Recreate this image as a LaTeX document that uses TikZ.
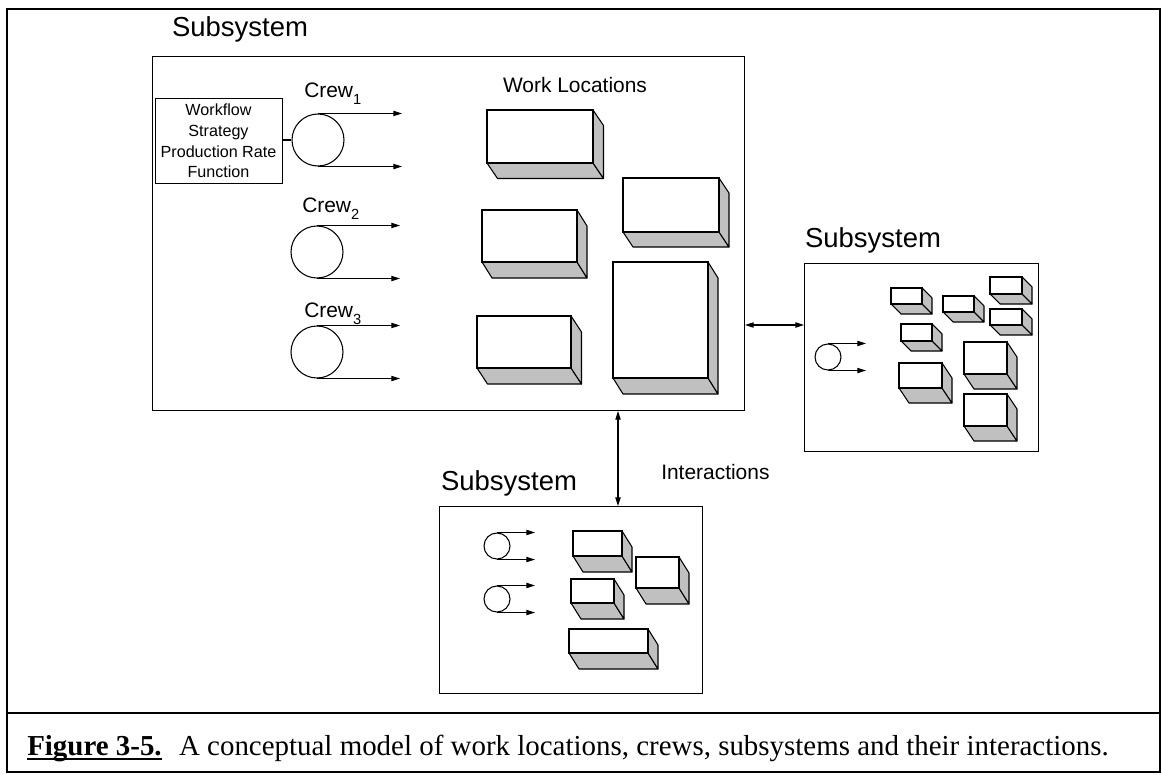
\documentclass[tikz,border=0pt]{standalone}
\usepackage{fontspec}
\setmainfont{Liberation Serif}
\newfontfamily\arialfont{Liberation Sans}
\usetikzlibrary{arrows.meta}
\definecolor{sidegray}{HTML}{C0C0C0}

% a work location: front face (#1,#2)-(#3,#4), depth offset (#5,#6)
\newcommand\wloc[6]{%
  \filldraw[face] (#1,#4) -- (#3,#4) -- (#3+#5,#4+#6) -- (#1+#5,#4+#6) -- cycle;
  \filldraw[face] (#3,#2) -- (#3+#5,#2+#6) -- (#3+#5,#4+#6) -- (#3,#4) -- cycle;
  \filldraw[frontface] (#1,#2) rectangle (#3,#4);
}
% underlined caption tag with a heavier rule
\newcommand\captag[1]{\leavevmode\setbox0\hbox{#1}\rlap{\rule[-4pt]{\wd0}{1.5pt}}\box0}

\begin{document}
\begin{tikzpicture}[x=0.75pt,y=-0.75pt,
  thin line/.style={line width=0.8pt, draw=black},
  face/.style={thin line, fill=sidegray, line join=round},
  frontface/.style={thin line, fill=white},
  sysbox/.style={thin line, rectangle, inner sep=0pt, anchor=north west, fill=white},
  crew/.style={thin line, circle, inner sep=0pt, minimum size=39pt},
  smallcrew/.style={thin line, circle, inner sep=0pt, minimum size=19.5pt},
  arr/.style={thin line, -{Triangle[length=6.5pt,width=4pt]}},
  darr/.style={thin line, {Triangle[length=6.5pt,width=4pt]}-{Triangle[length=6.5pt,width=4pt]}},
  syslabel/.style={font=\arialfont\fontsize{20.6pt}{24pt}\selectfont, inner sep=0pt},
  midlabel/.style={font=\arialfont\fontsize{15.7pt}{19pt}\selectfont, inner sep=0pt},
]
\useasboundingbox (0,0) rectangle (1162,774);

% outer frame and caption rule
\draw[line width=1.5pt] (7,9) rectangle (1160,772);
\draw[line width=1.5pt] (7,713) -- (1160,713);

% ---------------- main subsystem ----------------
\node[sysbox, minimum width=444pt, minimum height=265.5pt] (main) at (152,56) {};
\node[syslabel] (mainlbl) at (240,29) {Subsystem};

\node[thin line, rectangle, inner sep=0pt, anchor=north west,
      minimum width=95.25pt, minimum height=63.75pt] (wf) at (155,98) {};
\node[font=\arialfont\fontsize{12.1pt}{15.5pt}\selectfont, align=center, inner sep=0pt]
  (wftext) at (218.5,141) {Workflow\\Strategy\\Production Rate\\Function};

\node[crew] (c1) at (318,140) {};
\node[crew] (c2) at (317,252) {};
\node[crew] (c3) at (317,352) {};

\node[midlabel, anchor=base west] (l1) at (304,97) {Crew\raisebox{-0.38em}{\fontsize{11pt}{13pt}\selectfont 1}};
\node[midlabel, anchor=base west] (l2) at (302,212) {Crew\raisebox{-0.38em}{\fontsize{11pt}{13pt}\selectfont 2}};
\node[midlabel, anchor=base west] (l3) at (304,317) {Crew\raisebox{-0.38em}{\fontsize{11pt}{13pt}\selectfont 3}};

\draw[thin line] (c1.west -| wf.east) -- (c1.west);

\coordinate (e1) at (402,0);
\coordinate (e2) at (400,0);
\draw[arr] (c1.north) -- (c1.north -| e1);
\draw[arr] (c1.south) -- (c1.south -| e1);
\draw[arr] (c2.north) -- (c2.north -| e2);
\draw[arr] (c2.south) -- (c2.south -| e2);
\draw[arr] (c3.north) -- (c3.north -| e2);
\draw[arr] (c3.south) -- (c3.south -| e2);

\node[midlabel] (wl) at (575,85) {Work Locations};

\wloc{487}{110}{593}{163}{10.5}{15.5}
\wloc{623}{178}{719}{232}{10}{15}
\wloc{482}{210}{577}{262}{10}{16}
\wloc{477}{316}{571}{368}{10.5}{16}
\wloc{613}{262}{708}{378}{10}{16}

% ---------------- right subsystem ----------------
\node[sysbox, minimum width=175.5pt, minimum height=141pt] (rsub) at (804,263) {};
\node[syslabel] (rlbl) at (873,240) {Subsystem};

\node[smallcrew] (rc) at (828,357) {};
\coordinate (e3) at (866,0);
\draw[arr] (rc.north) -- (rc.north -| e3);
\draw[arr] (rc.south) -- (rc.south -| e3);

\wloc{891}{288}{922}{304}{10}{10}
\wloc{943}{296}{974}{312}{10}{10}
\wloc{990}{277}{1022}{294}{10}{10}
\wloc{990}{309}{1022}{325}{10}{10}
\wloc{901}{324}{932}{341}{10}{10}
\wloc{899}{363}{942}{388}{10}{15}
\wloc{964}{342}{1007}{374}{10}{15}
\wloc{964}{394}{1007}{426}{10}{15}

% ---------------- bottom subsystem ----------------
\node[sysbox, minimum width=197.25pt, minimum height=140.25pt] (bsub) at (439,506) {};
\node[syslabel] (blbl) at (509,483) {Subsystem};

\node[smallcrew] (bc1) at (497,546) {};
\node[smallcrew] (bc2) at (497,599) {};
\coordinate (e4) at (535,0);
\draw[arr] (bc1.north) -- (bc1.north -| e4);
\draw[arr] (bc1.south) -- (bc1.south -| e4);
\draw[arr] (bc2.north) -- (bc2.north -| e4);
\draw[arr] (bc2.south) -- (bc2.south -| e4);

\wloc{573}{531}{622}{556}{10}{16}
\wloc{636}{557}{679}{588}{10}{16}
\wloc{571}{579}{614}{603}{10}{16}
\wloc{569}{629}{648}{653}{10}{16}

% ---------------- interactions ----------------
\coordinate (ih) at (0,325);
\coordinate (iv) at (618,0);
\draw[darr] (main.east |- ih) -- (rsub.west |- ih);
\draw[darr] (main.south -| iv) -- (bsub.north -| iv);
\node[midlabel, anchor=west] (ilbl) at (661,472) {Interactions};

% ---------------- caption ----------------
\node[anchor=base west, inner sep=0pt, font=\fontsize{21.7pt}{25pt}\selectfont] (cap) at (27,755)
  {\captag{\textbf{Figure 3-5.}}\hspace{0.6em}A conceptual model of work locations, crews, subsystems and their interactions.};
\end{tikzpicture}
\end{document}
